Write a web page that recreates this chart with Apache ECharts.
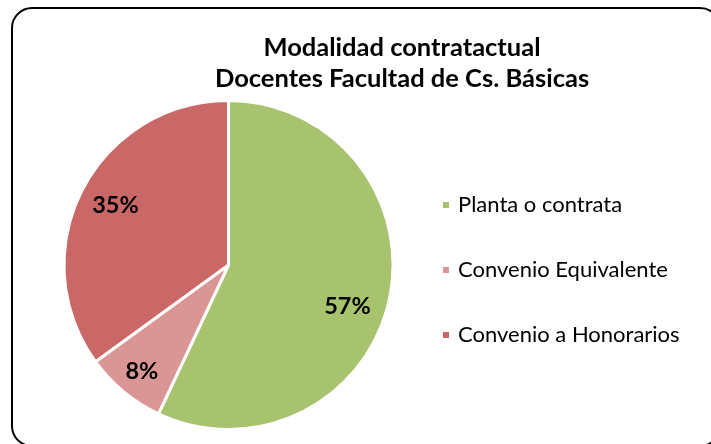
<!DOCTYPE html>
<html>
<head>
<meta charset="utf-8">
<script src="https://cdn.jsdelivr.net/npm/echarts@6/dist/echarts.min.js"></script>
<style>
html,body{margin:0;padding:0;background:#fff;}
#chart{width:711px;height:444px;}
</style>
</head>
<body>
<div id="chart"></div>
<script>
const titleLines = ['Modalidad contratactual', 'Docentes Facultad de Cs. Básicas'];
const categories = ['Planta o contrata', 'Convenio Equivalente', 'Convenio a Honorarios'];
const values = [57, 8, 35];

const colors = ['#A7C36E', '#D99695', '#C96866'];
const labelNudges = [[-6, 13], [-5, 8], [1, -1]];

const FONT = 'Lato';
const data = categories.map((c, i) => ({ name: c, value: values[i], itemStyle: { color: colors[i] } }));
const labelData = categories.map((c, i) => ({ name: c, value: values[i], label: { offset: labelNudges[i] } }));

const chart = echarts.init(document.getElementById('chart'), null, { renderer: 'canvas' });
chart.setOption({
  animation: false,
  backgroundColor: '#ffffff',
  title: {
    text: titleLines.join('\n'),
    left: 397,
    textAlign: 'center',
    top: 27,
    textStyle: { fontFamily: FONT, fontWeight: 'bold', fontSize: 25.5, lineHeight: 31, color: '#000' }
  },
  legend: {
    orient: 'vertical',
    left: 436,
    top: 188,
    itemWidth: 8,
    itemHeight: 8,
    itemGap: 41,
    icon: 'rect',
    data: categories,
    textStyle: { fontFamily: FONT, fontSize: 22, lineHeight: 24, color: '#000', padding: [0, 0, 0, 3] }
  },
  graphic: [{
    type: 'rect',
    shape: { x: 12, y: 8, width: 708, height: 438, r: 20 },
    style: { fill: 'none', stroke: '#000', lineWidth: 2 },
    silent: true,
    z: 100
  }],
  series: [{
    type: 'pie',
    center: [228.5, 265],
    radius: [0, 164.5],
    startAngle: 90,
    clockwise: true,
    label: { show: false },
    labelLine: { show: false },
    itemStyle: { borderColor: '#fff', borderWidth: 3 },
    emphasis: { disabled: true },
    data: data
  }, {
    type: 'pie',
    center: [228.5, 265],
    radius: [86, 164],
    startAngle: 90,
    clockwise: true,
    silent: true,
    legendHoverLink: false,
    itemStyle: { color: 'rgba(0,0,0,0)', borderWidth: 0 },
    label: {
      show: true,
      position: 'inside',
      formatter: p => Math.round(p.percent) + '%',
      fontFamily: FONT,
      fontWeight: 'bold',
      fontSize: 23.5,
      color: '#000'
    },
    labelLine: { show: false },
    emphasis: { disabled: true },
    data: labelData
  }]
});
</script>
</body>
</html>
